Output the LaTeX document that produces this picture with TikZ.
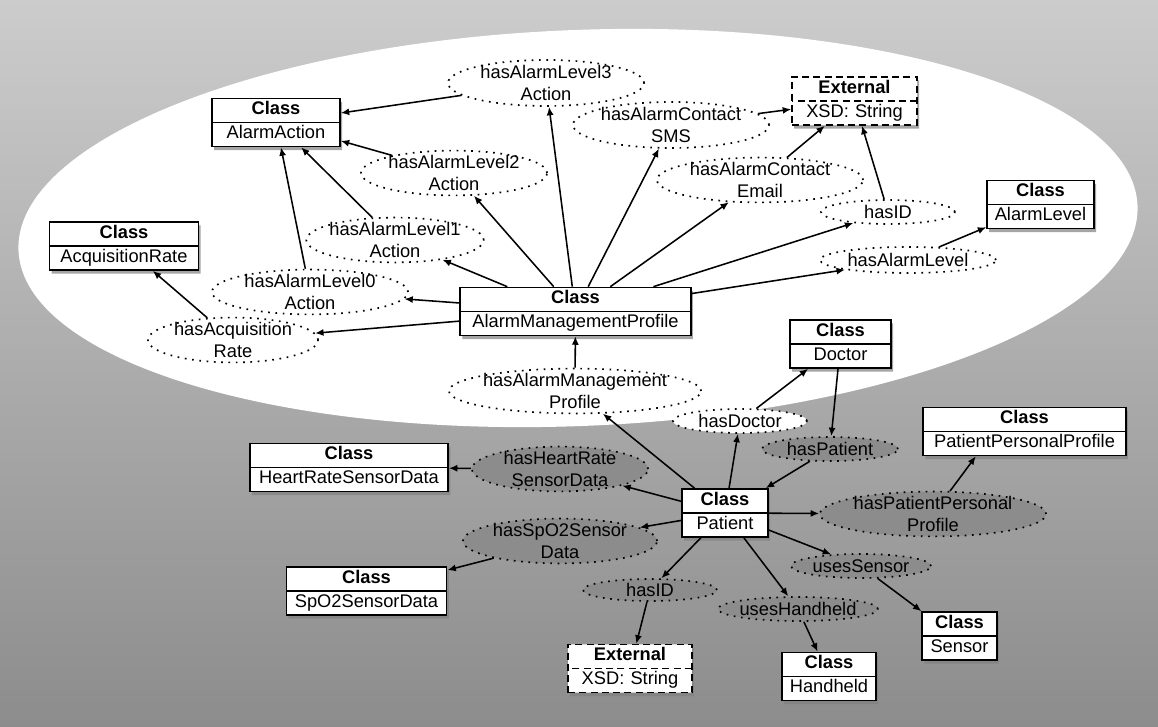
\documentclass[tikz,border=0pt]{standalone}
\usepackage{fontspec}
\setmainfont{Liberation Sans}
\usetikzlibrary{shapes.geometric,shapes.multipart,shadows,arrows.meta}

\tikzset{
  cls/.style={rectangle split, rectangle split parts=2, draw, line width=1.1pt,
    fill=white, text width=#1, align=center, inner xsep=2pt, inner ysep=0.5pt,
    drop shadow={opacity=0.7, shadow xshift=1.5pt, shadow yshift=-2.5pt}},
  ext/.style={cls=#1, dash pattern=on 5pt off 3pt},
  rel/.style 2 args={ellipse, line width=1.2pt, draw, loosely dotted, fill=white,
    align=center, inner xsep=-2pt, inner ysep=-1pt,
    minimum width=#1, minimum height=#2},
  reldark/.style 2 args={rel={#1}{#2}, fill=black!45},
  link/.style={->, line width=1.1pt}
}

\begin{document}
\begin{tikzpicture}[
    x=0.025cm, y=-0.025cm,
    >={Latex[length=6pt,width=5pt]},
    every node/.style={font=\fontsize{13}{15}\selectfont}
]
\useasboundingbox (0,0) rectangle (1158,727);

% Background and highlighted area
\shade[top color=black!20, bottom color=black!45] (0,0) rectangle (1158,727);
\fill[white, rotate around={2.3:(578,228)}]
    (578,228) ellipse [x radius=560, y radius=198];

% Alarm management profile
\node[cls=160pt] (amp) at (575.5,311.5)
    {\textbf{Class}\strut\nodepart{two}AlarmManagementProfile\strut};
\node[cls=87pt] (aa) at (276,122.5)
    {\textbf{Class}\strut\nodepart{two}AlarmAction\strut};
\node[cls=102pt] (acq) at (124,246)
    {\textbf{Class}\strut\nodepart{two}AcquisitionRate\strut};
\node[ext=85pt] (extT) at (854.5,101)
    {\textbf{External}\strut\nodepart{two}XSD: String\strut};
\node[cls=72pt] (al) at (1040.5,204.5)
    {\textbf{Class}\strut\nodepart{two}AlarmLevel\strut};

\node[rel={4.9cm}{1.15cm}] (l3) at (546,83) {hasAlarmLevel3\\Action};
\node[rel={4.9cm}{1.15cm}] (sms) at (671,125) {hasAlarmContact\\SMS};
\node[rel={4.65cm}{1.05cm}] (l2) at (454,173) {hasAlarmLevel2\\Action};
\node[rel={5.15cm}{1.1cm}] (email) at (760,180) {hasAlarmContact\\Email};
\node[rel={3.35cm}{0.6cm}] (idT) at (888,212) {hasID};
\node[rel={4.35cm}{1.1cm}] (l1) at (395,240) {hasAlarmLevel1\\Action};
\node[rel={4.4cm}{0.65cm}] (alv) at (908,260) {hasAlarmLevel};
\node[rel={4.9cm}{1.0cm}] (l0) at (310,292) {hasAlarmLevel0\\Action};
\node[rel={4.25cm}{1.1cm}] (acqr) at (233,340) {hasAcquisition\\Rate};

\draw[link] (amp) -- (l3);
\draw[link] (l3) -- (aa);
\draw[link] (amp) -- (l2);
\draw[link] (l2) -- (aa);
\draw[link] (amp.160) -- (l1);
\draw[link] (l1) -- (aa);
\draw[link] (amp) -- (l0);
\draw[link] (l0) -- (aa);
\draw[link] (amp) -- (acqr);
\draw[link] (acqr) -- (acq);
\draw[link] (amp) -- (sms);
\draw[link] (sms) -- (extT);
\draw[link] (amp) -- (email);
\draw[link] (email) -- (extT);
\draw[link] (amp) -- (idT);
\draw[link] (idT) -- (extT);
\draw[link] (amp) -- (alv);
\draw[link] (alv) -- (al);

% Patient
\node[cls=57pt] (pat) at (725,513)
    {\textbf{Class}\strut\nodepart{two}Patient\strut};
\node[cls=68pt] (doc) at (840.5,344)
    {\textbf{Class}\strut\nodepart{two}Doctor\strut};
\node[cls=140pt] (ppp) at (1024.5,431.5)
    {\textbf{Class}\strut\nodepart{two}PatientPersonalProfile\strut};
\node[cls=137pt] (hr) at (349,467.5)
    {\textbf{Class}\strut\nodepart{two}HeartRateSensorData\strut};
\node[cls=110pt] (spo) at (366.5,591)
    {\textbf{Class}\strut\nodepart{two}SpO2SensorData\strut};
\node[ext=84pt] (extB) at (630,668.5)
    {\textbf{External}\strut\nodepart{two}XSD: String\strut};
\node[cls=63pt] (hh) at (829,676.5)
    {\textbf{Class}\strut\nodepart{two}Handheld\strut};
\node[cls=49pt] (sen) at (959.5,636)
    {\textbf{Class}\strut\nodepart{two}Sensor\strut};

\node[rel={6.25cm}{1.1cm}] (hamp) at (575,391) {hasAlarmManagement\\Profile};
\node[rel={3.35cm}{0.6cm}] (hdoc) at (740,421) {hasDoctor};
\node[reldark={3.4cm}{0.6cm}] (hpat) at (830,449) {hasPatient};
\node[reldark={4.4cm}{1.0cm}] (hhr) at (560,469) {hasHeartRate\\SensorData};
\node[reldark={5.65cm}{0.9cm}] (hppp) at (933,514) {hasPatientPersonal\\Profile};
\node[reldark={4.85cm}{0.95cm}] (hspo) at (560,541) {hasSpO2Sensor\\Data};
\node[reldark={3.5cm}{0.6cm}] (usen) at (861,566) {usesSensor};
\node[reldark={3.35cm}{0.55cm}] (idB) at (650,590) {hasID};
\node[reldark={4.0cm}{0.6cm}] (uhh) at (798,609) {usesHandheld};

\draw[link] (pat) -- (hamp);
\draw[link] (hamp) -- (amp);
\draw[link] (pat) -- (hdoc);
\draw[link] (hdoc) -- (doc);
\draw[link] (doc) -- (hpat);
\draw[link] (hpat) -- (pat);
\draw[link] (pat) -- (hhr);
\draw[link] (hhr) -- (hr);
\draw[link] (pat) -- (hspo);
\draw[link] (hspo) -- (spo);
\draw[link] (pat) -- (hppp);
\draw[link] (hppp) -- (ppp.207);
\draw[link] (pat) -- (usen);
\draw[link] (usen) -- (sen.north west);
\draw[link] (pat) -- (idB);
\draw[link] (idB) -- (extB);
\draw[link] (pat) -- (uhh);
\draw[link] (uhh) -- (hh);

\end{tikzpicture}
\end{document}
